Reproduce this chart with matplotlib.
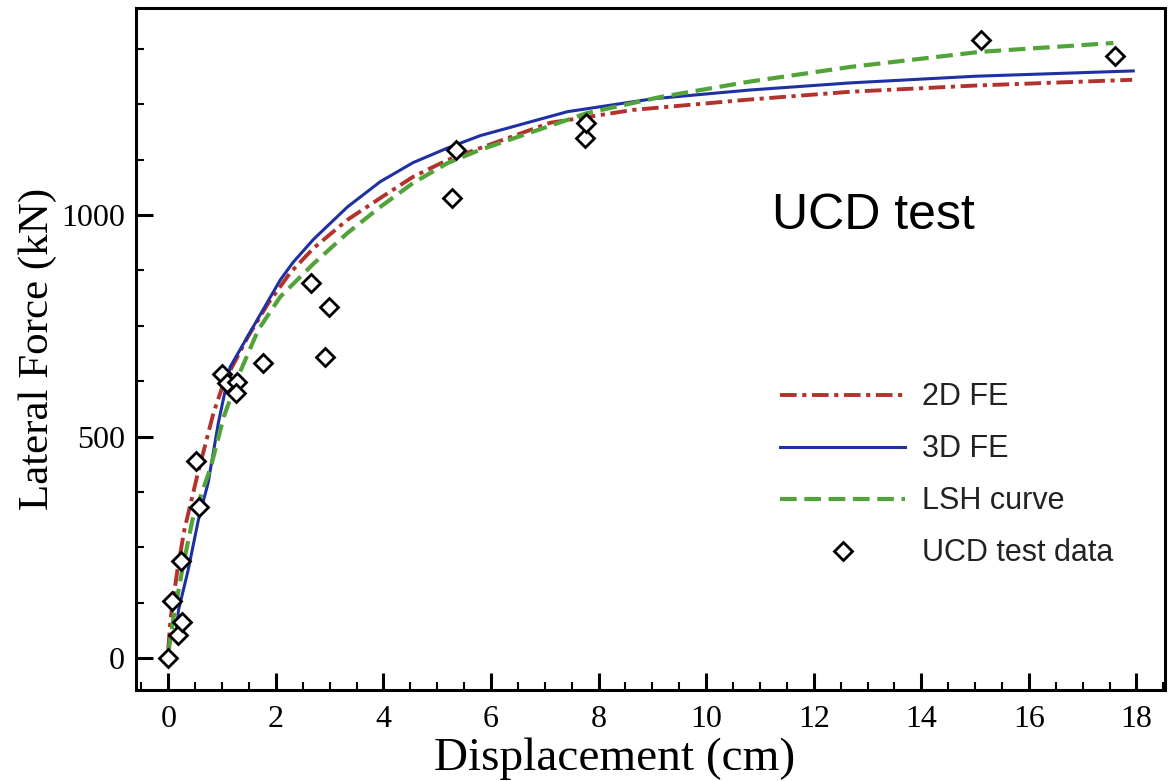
import matplotlib
matplotlib.use('Agg')
import matplotlib.pyplot as plt
from matplotlib.ticker import MultipleLocator

# 2D FE curve (dash-dot, red)
fe2d_x = [0.0, 0.04, 0.17, 0.30, 0.54, 0.84, 1.03, 1.48, 1.86, 2.27, 2.70, 3.33, 3.94,
          4.55, 5.19, 5.8, 7.1, 8.64, 10.76, 12.68, 15.0, 17.92]
fe2d_y = [20, 86, 199, 290, 412, 553, 621, 725, 801, 870, 925, 989, 1038,
          1086, 1124, 1151, 1208, 1237, 1260, 1278, 1292, 1305]

# 3D FE curve (solid, blue)
fe3d_x = [0.15, 0.19, 0.37, 0.56, 0.74, 0.93, 1.15, 1.6, 2.08, 2.32, 2.70, 3.33, 3.94,
          4.55, 5.19, 5.8, 7.42, 9.0, 10.82, 12.68, 15.0, 17.94]
fe3d_y = [60, 108, 199, 312, 395, 530, 657, 752, 853, 893, 945, 1018, 1075,
          1118, 1151, 1179, 1233, 1262, 1282, 1298, 1313, 1325]

# LSH curve (dashed, green)
lsh_x = [0.0, 0.09, 0.26, 0.45, 0.79, 1.03, 1.35, 1.67, 2.08, 2.70, 3.33, 3.94,
         4.55, 5.19, 5.8, 7.79, 9.14, 10.76, 12.68, 15.09, 17.57]
lsh_y = [11, 86, 199, 312, 431, 544, 650, 740, 815, 890, 959, 1018,
         1072, 1117, 1147, 1230, 1266, 1300, 1334, 1368, 1388]

# UCD test data (diamonds)
test_x = [0.0, 0.19, 0.26, 0.06, 0.24, 0.58, 0.52, 1.00, 1.10, 1.28, 1.26, 1.77,
          2.66, 2.99, 2.92, 5.28, 5.35, 7.75, 7.77, 15.11, 17.60]
test_y = [0, 52, 81, 129, 219, 341, 445, 641, 621, 623, 598, 666,
          846, 792, 679, 1038, 1147, 1174, 1208, 1395, 1359]

plt.rcParams['lines.scale_dashes'] = False

fig = plt.figure(figsize=(11.68, 7.81), dpi=100)
ax = fig.add_axes([136/1168, 1 - 690/781, 1029/1168, 682/781])

ax.plot(fe3d_x, fe3d_y, color='#1f30a3', lw=2.2, label='3D FE', zorder=3)
ax.plot(fe2d_x, fe2d_y, color='#b3322b', lw=2.8, dashes=(12, 4, 3, 4),
        label='2D FE', zorder=2)
ax.plot(lsh_x, lsh_y, color='#52a33a', lw=3.0, dashes=(12, 5.5),
        label='LSH curve', zorder=4)
ax.plot(test_x, test_y, ls='none', marker='D', ms=9.5, mfc='white', mec='black',
        mew=2.0, label='UCD test data', zorder=5)

ax.set_xlim(-0.6, 18.53)
ax.set_ylim(-72, 1467)

ax.xaxis.set_major_locator(MultipleLocator(2))
ax.xaxis.set_minor_locator(MultipleLocator(0.5))
ax.yaxis.set_major_locator(MultipleLocator(500))
ax.yaxis.set_minor_locator(MultipleLocator(125))

serif = 'Liberation Serif'
ax.tick_params(which='both', direction='in', top=False, right=False)
ax.tick_params(which='major', length=12, width=2.2)
ax.tick_params(which='minor', length=6, width=1.5)
ax.tick_params(axis='x', which='major', pad=11, labelsize=23)
ax.tick_params(axis='y', which='major', pad=8, labelsize=23)
for lab in ax.get_xticklabels() + ax.get_yticklabels():
    lab.set_fontfamily(serif)
for sp in ax.spines.values():
    sp.set_linewidth(2.2)

ax.set_xlabel('Displacement (cm)', fontsize=34, fontfamily=serif)
ax.xaxis.set_label_coords(0.4655, -0.069)
ax.set_ylabel('Lateral Force (kN)', fontsize=31, fontfamily=serif)
ax.yaxis.set_label_coords(-0.077, 0.5)

ax.text(0.717, 0.695, 'UCD test', transform=ax.transAxes, fontsize=36,
        fontfamily='Liberation Sans', ha='center', va='center')

handles, labels = ax.get_legend_handles_labels()
order = [1, 0, 2, 3]
leg = ax.legend([handles[i] for i in order], [labels[i] for i in order],
                loc='upper left', bbox_to_anchor=(0.626, 0.451), frameon=False,
                borderpad=0, borderaxespad=0, handlelength=4.1, handletextpad=0.55,
                labelspacing=0.72, numpoints=1,
                prop={'family': 'Liberation Sans', 'size': 22})
for t in leg.get_texts():
    t.set_color('#222222')

fig.savefig('out.png', dpi=100)
